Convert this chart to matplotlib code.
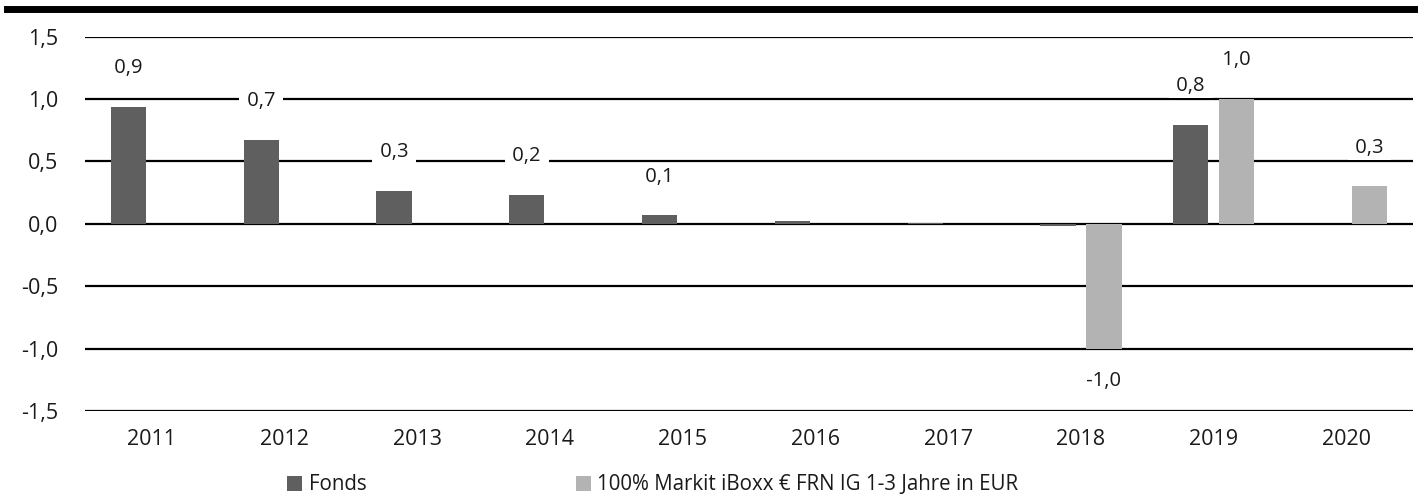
import numpy as np
import matplotlib
matplotlib.use("Agg")
import matplotlib.pyplot as plt
from matplotlib.lines import Line2D

plt.rcParams['font.family'] = ['Open Sans', 'DejaVu Sans']

# Data
years = ["2011", "2012", "2013", "2014", "2015", "2016", "2017", "2018", "2019", "2020"]
fonds = [0.94, 0.67, 0.265, 0.235, 0.067, 0.02, 0.01, -0.015, 0.795, np.nan]
index = [np.nan, np.nan, np.nan, np.nan, np.nan, np.nan, np.nan, -1.0, 1.0, 0.30]
series_names = ["Fonds", "100% Markit iBoxx € FRN IG 1-3 Jahre in EUR"]
yticks = [-1.5, -1.0, -0.5, 0.0, 0.5, 1.0, 1.5]

c_fonds = "#5f5f5f"
c_index = "#b3b3b3"
c_text = "#1a1a1a"

W, H = 1418, 495
fig = plt.figure(figsize=(W / 100, H / 100), dpi=100)
ax = fig.add_axes([85 / W, 1 - 411 / H, 1328 / W, 374.3 / H])

x = np.arange(len(years))
bw = 0.264
off = 0.173
b1 = ax.bar(x - off, fonds, bw, color=c_fonds, zorder=2, label=series_names[0])
b2 = ax.bar(x + off, index, bw, color=c_index, zorder=2, label=series_names[1])

# gridlines
for t in yticks:
    ax.axhline(t, color="black", lw=1.6, zorder=1)

# value labels
def label_bars(xs, vals):
    for xi, v in zip(xs, vals):
        if np.isnan(v) or abs(v) < 0.05:
            continue
        txt = " " + f"{v:.1f}".replace(".", ",") + " "
        dy = 28 if v > 0 else -23
        ax.annotate(txt, (xi, v), xytext=(0, dy), textcoords="offset points",
                    ha="center", va="center", fontsize=14.5, color=c_text,
                    zorder=4,
                    bbox=dict(boxstyle="square,pad=0.12", fc="white", ec="none"))

label_bars(x - off, fonds)
label_bars(x + off, index)

ax.set_xlim(-0.5, len(years) - 0.5)
ax.set_ylim(-1.5, 1.5)
ax.set_yticks(yticks)
ax.set_yticklabels([f"{t:.1f}".replace(".", ",") for t in yticks])
ax.set_xticks(x)
ax.set_xticklabels(years)
ax.tick_params(axis="both", length=0, labelsize=15.5, colors=c_text)
ax.tick_params(axis="y", pad=19)
ax.tick_params(axis="x", pad=13)
for s in ax.spines.values():
    s.set_visible(False)

# thick top rule
fig.add_artist(Line2D([7 / W, 1414 / W], [1 - 8.5 / H, 1 - 8.5 / H],
                      color="black", lw=5, transform=fig.transFigure))

leg = fig.legend(handles=[b1, b2], loc="center left",
                 bbox_to_anchor=(287 / W, 1 - 485 / H), ncol=2, frameon=False,
                 borderpad=0, borderaxespad=0, handlelength=0.75, handleheight=0.75,
                 handletextpad=0.3, columnspacing=10.2, fontsize=14.8)
for t in leg.get_texts():
    t.set_color(c_text)

fig.savefig("out.png", dpi=100)
